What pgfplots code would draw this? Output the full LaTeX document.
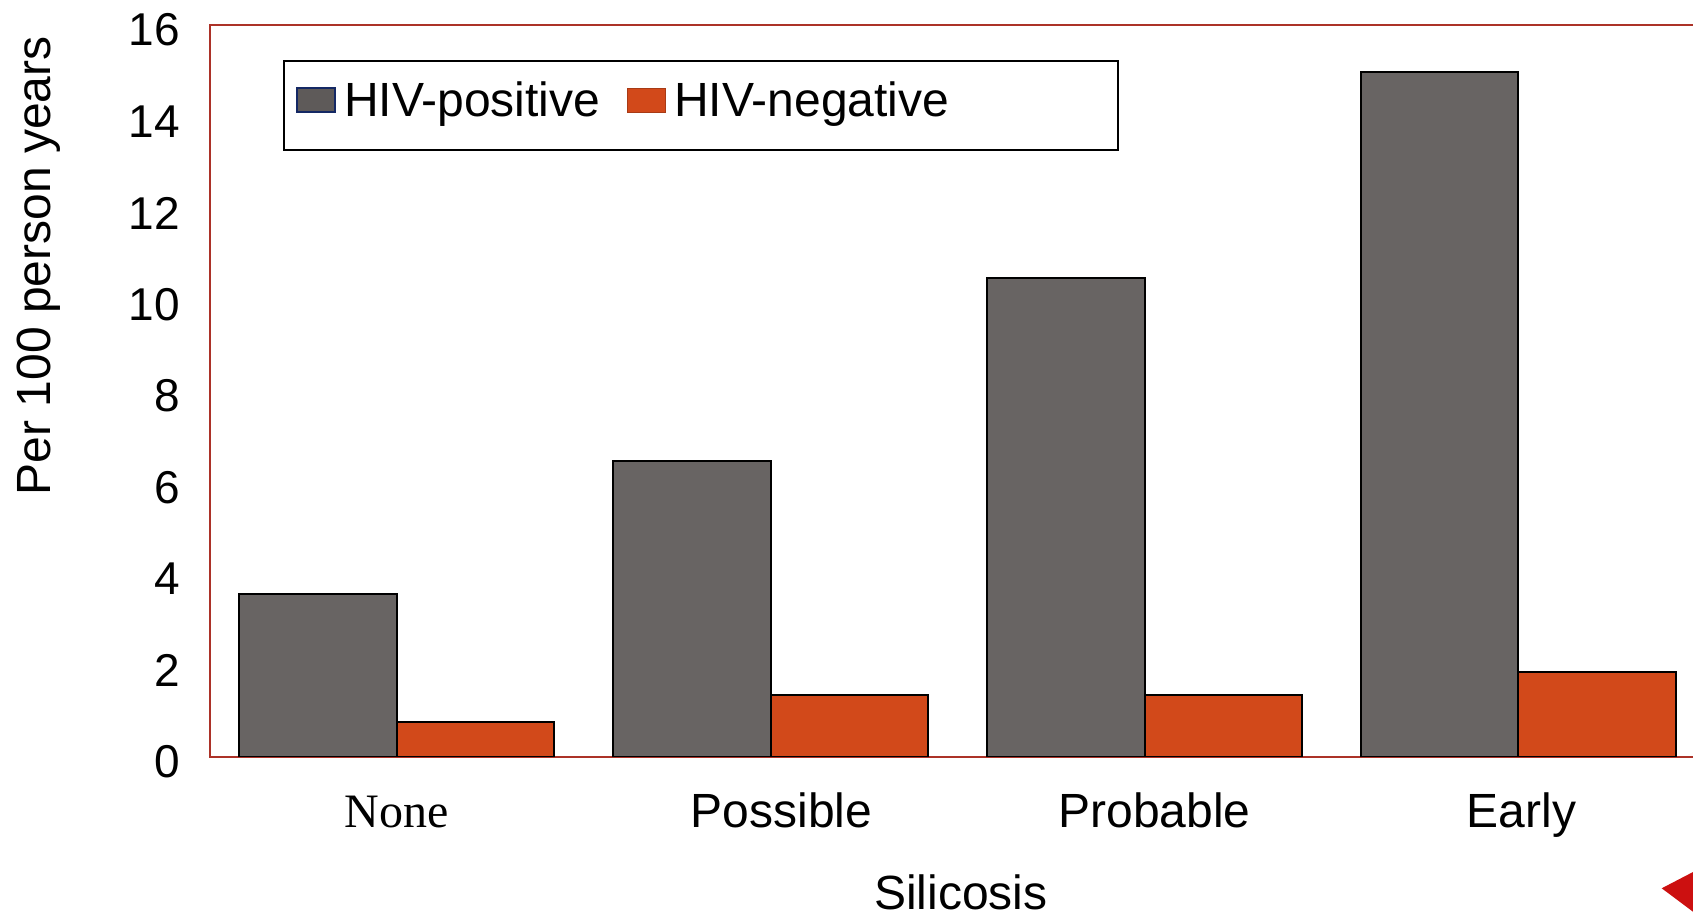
\documentclass[border=0pt]{standalone}
\usepackage{fontspec}
\setmainfont{Liberation Sans}
\newfontfamily\timesfont{Liberation Serif}
\usepackage{pgfplots}
\pgfplotsset{compat=1.18}
\definecolor{hivpos}{RGB}{104,100,99}
\definecolor{hivneg}{RGB}{210,73,26}
\definecolor{axred}{RGB}{172,50,40}
\definecolor{navy}{RGB}{20,40,100}
\definecolor{arrowred}{RGB}{204,16,16}
\begin{document}
\begin{tikzpicture}
\begin{axis}[
  scale only axis, width=743.5pt, height=366pt,
  ybar=0pt, bar width=0.4215,
  xmin=-0.5, xmax=3.4777, ymin=0, ymax=16,
  ytick={0,2,...,16},
  xtick={0,1,2,3},
  xticklabels={{\timesfont None},\hspace*{10.8pt}Possible,\hspace*{10pt}Probable,\hspace*{3pt}Early},
  major tick length=0pt,
  axis line style={draw=axred, line width=1pt},
  /pgf/number format/assume math mode=true,
  yticklabel style={font=\fontsize{23}{27}\selectfont, xshift=-11.4pt, yshift=-2.5pt},
  xticklabel style={font=\fontsize{24}{28}\selectfont, anchor=base, yshift=-35.5pt},
  xlabel={Silicosis}, ylabel={Per 100 person years},
  label style={font=\fontsize{24}{28}\selectfont},
  xlabel style={at={(axis description cs:0.505,-0.1844)}, anchor=center},
  ylabel style={at={(axis description cs:-0.1155,0.671)}, anchor=center},
  legend columns=2,
  legend cell align=left,
  legend style={at={(axis description cs:0.0491,0.952)}, anchor=north west,
    draw=black, line width=1pt, font=\fontsize{24}{28}\selectfont,
    inner xsep=6pt, inner ysep=8.2pt,
    nodes={inner xsep=4pt, inner ysep=2pt},
    /tikz/every even column/.append style={column sep=9.5pt}},
  after end axis/.code={\coordinate (bl) at (rel axis cs:0,0);},
]
\addplot[fill=hivpos, draw=black, line width=1pt,
  legend image code/.code={\draw[fill=hivpos!90!black, draw=navy, line width=1pt] (0pt,-6pt) rectangle (19pt,6pt); \path (0pt,-15.9pt);}]
  coordinates {(0,3.57) (1,6.47) (2,10.46) (3,14.97)};
\addlegendentry{HIV-positive}
\addplot[fill=hivneg, draw=black, line width=1pt,
  legend image code/.code={\draw[fill=hivneg, draw=hivneg!80!black, line width=0.6pt] (0pt,-6pt) rectangle (19pt,6pt);}]
  coordinates {(0,0.76) (1,1.35) (2,1.35) (3,1.86)};
\addlegendentry{HIV-negative\rule{74.5pt}{0pt}}
\end{axis}
\pgfresetboundingbox
\path[use as bounding box] ([shift={(-105pt,-78pt)}]bl) rectangle ([shift={(741.5pt,378.5pt)}]bl);
\fill[arrowred] ([shift={(725.85pt,-65.65pt)}]bl) -- ([shift={(745pt,-55.7pt)}]bl) -- ([shift={(745pt,-80pt)}]bl) -- cycle;
\end{tikzpicture}
\end{document}
